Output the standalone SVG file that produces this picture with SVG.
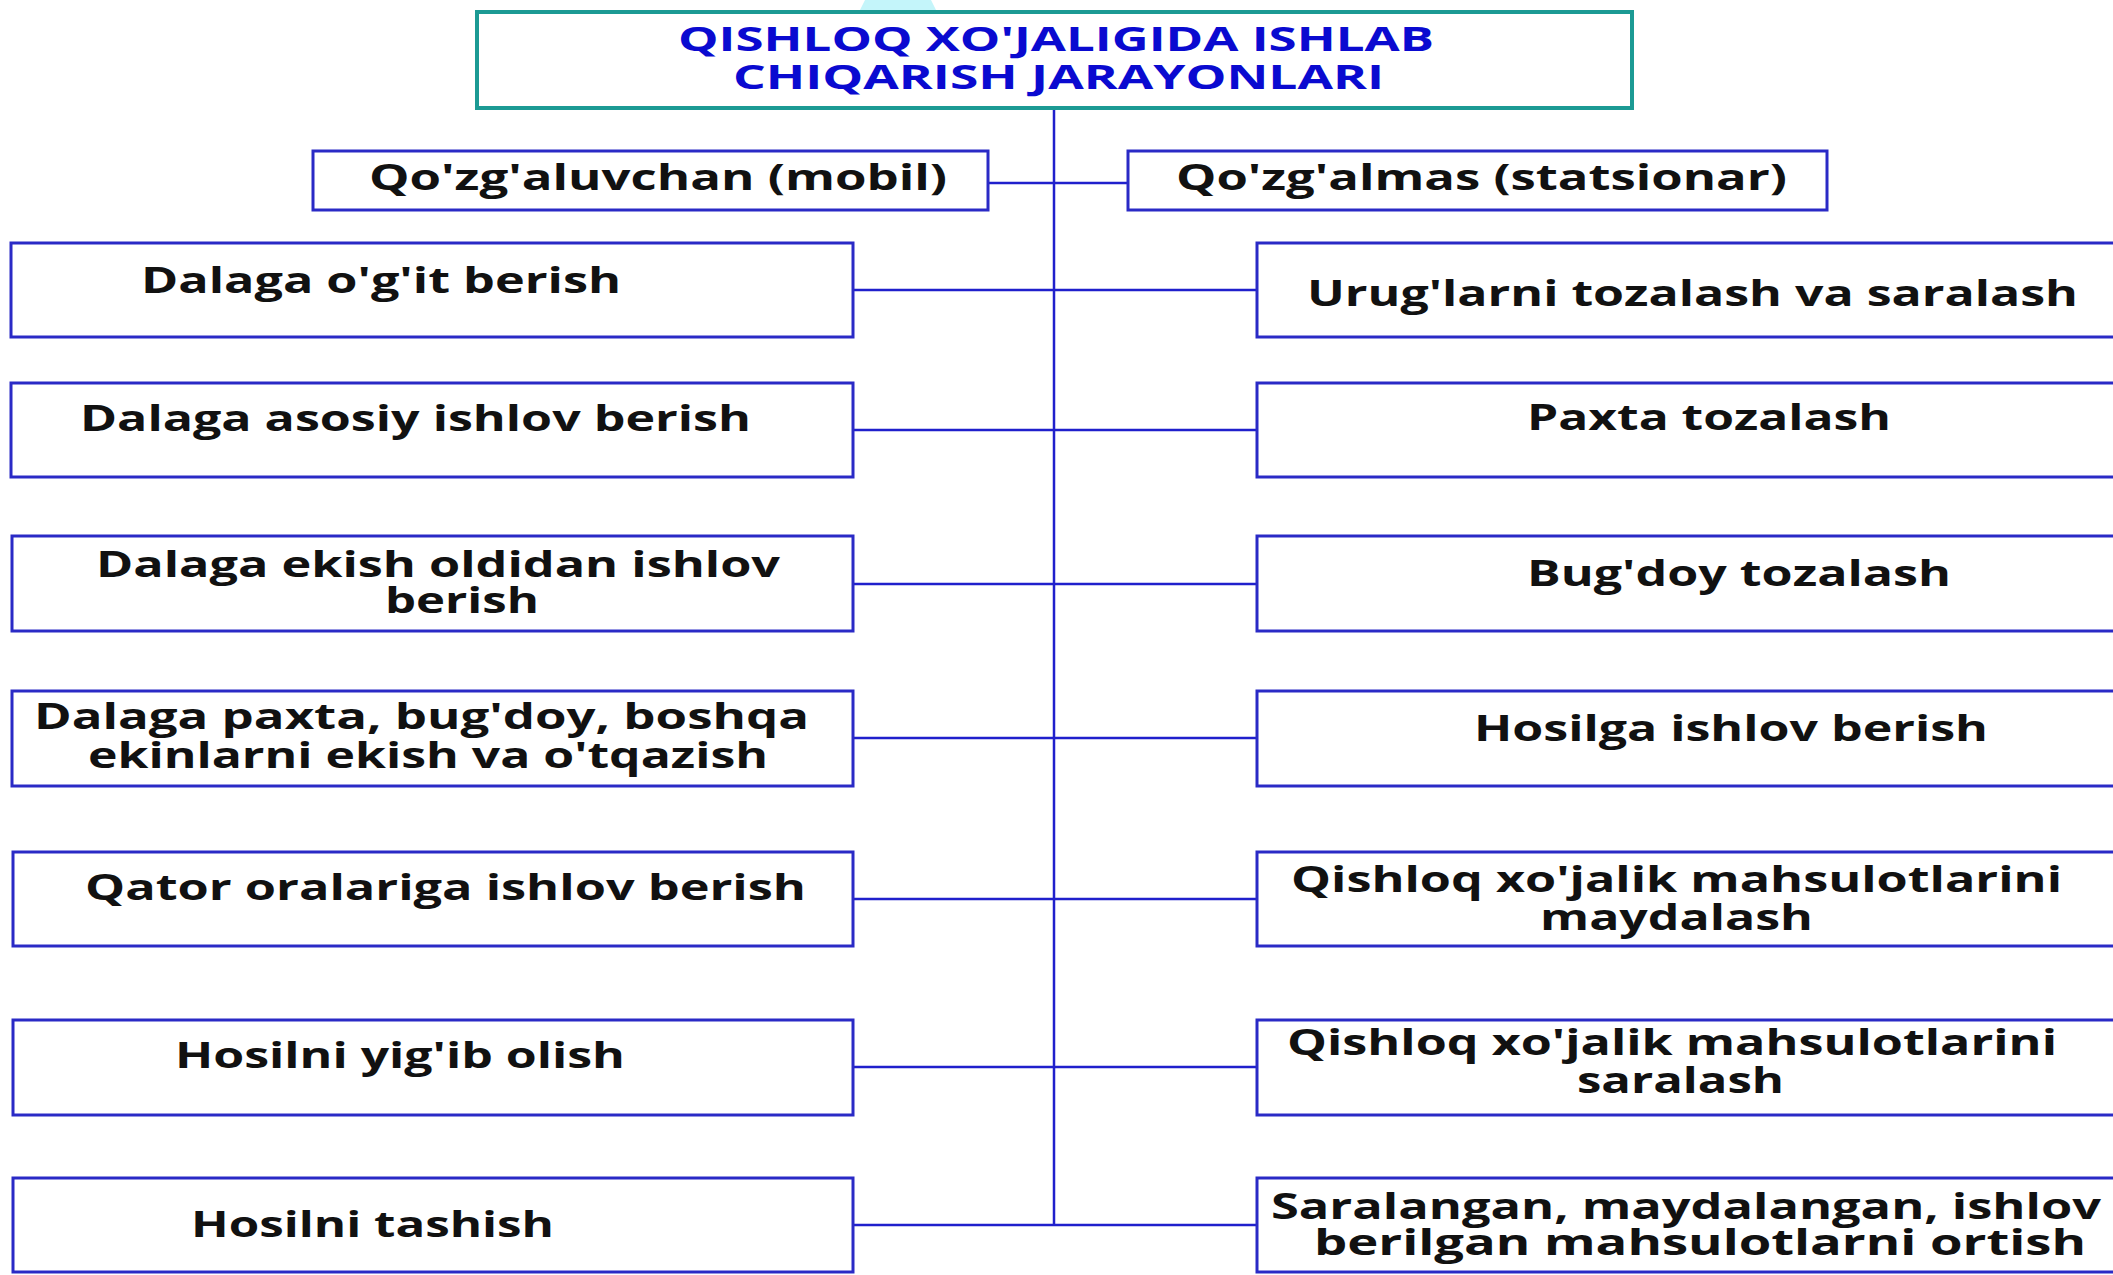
<svg xmlns="http://www.w3.org/2000/svg" width="2113" height="1275" viewBox="0 0 2113 1275">
<style>
.box{fill:#fff;stroke:#2a2ac6;stroke-width:3}
.title{fill:#fff;stroke:#1c9a94;stroke-width:4}
.t{font-family:"Open Sans","Liberation Sans",sans-serif;font-weight:bold;font-size:36px;fill:#111}
.tt{font-family:"Open Sans","Liberation Sans",sans-serif;font-weight:bold;font-size:34px;fill:#0a0ad0}
.c{stroke:#2020cc;stroke-width:2.5;fill:none}
</style>
<rect width="2113" height="1275" fill="#fff"/>
<path d="M858,14 L865,0 L931,0 L938,14 Z" fill="#c4f5fa"/>
<g id="connectors">
<line class="c" x1="1054" y1="108" x2="1054" y2="1225"/>
<line class="c" x1="988" y1="183" x2="1128" y2="183"/>
<line class="c" x1="853" y1="290" x2="1257" y2="290"/>
<line class="c" x1="853" y1="430" x2="1257" y2="430"/>
<line class="c" x1="853" y1="584" x2="1257" y2="584"/>
<line class="c" x1="853" y1="738" x2="1257" y2="738"/>
<line class="c" x1="853" y1="899" x2="1257" y2="899"/>
<line class="c" x1="853" y1="1067" x2="1257" y2="1067"/>
<line class="c" x1="853" y1="1225" x2="1257" y2="1225"/>
</g>
<g id="title">
<rect class="title" x="477" y="12" width="1155" height="96"/>
<text class="tt" x="678" y="51" textLength="756" lengthAdjust="spacingAndGlyphs">QISHLOQ XO'JALIGIDA ISHLAB</text>
<text class="tt" x="733" y="89" textLength="651" lengthAdjust="spacingAndGlyphs">CHIQARISH JARAYONLARI</text>
</g>
<g id="mobil">
<rect class="box" x="313" y="151" width="675" height="59"/>
<text class="t" x="369" y="190" textLength="578" lengthAdjust="spacingAndGlyphs">Qo'zg'aluvchan (mobil)</text>
</g>
<g id="statsionar">
<rect class="box" x="1128" y="151" width="699" height="59"/>
<text class="t" x="1176" y="190" textLength="611" lengthAdjust="spacingAndGlyphs">Qo'zg'almas (statsionar)</text>
</g>
<g id="l1">
<rect class="box" x="11" y="243" width="842" height="94"/>
<text class="t" x="141" y="293" textLength="480" lengthAdjust="spacingAndGlyphs">Dalaga o'g'it berish</text>
</g>
<g id="l2">
<rect class="box" x="11" y="383" width="842" height="94"/>
<text class="t" x="80" y="431" textLength="671" lengthAdjust="spacingAndGlyphs">Dalaga asosiy ishlov berish</text>
</g>
<g id="l3">
<rect class="box" x="12" y="536" width="841" height="95"/>
<text class="t" x="96" y="577" textLength="684" lengthAdjust="spacingAndGlyphs">Dalaga ekish oldidan ishlov</text>
<text class="t" x="385" y="613" textLength="154" lengthAdjust="spacingAndGlyphs">berish</text>
</g>
<g id="l4">
<rect class="box" x="12" y="691" width="841" height="95"/>
<text class="t" x="34" y="729" textLength="775" lengthAdjust="spacingAndGlyphs">Dalaga paxta, bug'doy, boshqa</text>
<text class="t" x="88" y="768" textLength="680" lengthAdjust="spacingAndGlyphs">ekinlarni ekish va o'tqazish</text>
</g>
<g id="l5">
<rect class="box" x="13" y="852" width="840" height="94"/>
<text class="t" x="85" y="900" textLength="721" lengthAdjust="spacingAndGlyphs">Qator oralariga ishlov berish</text>
</g>
<g id="l6">
<rect class="box" x="13" y="1020" width="840" height="95"/>
<text class="t" x="175" y="1068" textLength="450" lengthAdjust="spacingAndGlyphs">Hosilni yig'ib olish</text>
</g>
<g id="l7">
<rect class="box" x="13" y="1178" width="840" height="94"/>
<text class="t" x="191" y="1237" textLength="363" lengthAdjust="spacingAndGlyphs">Hosilni tashish</text>
</g>
<g id="r1">
<rect class="box" x="1257" y="243" width="860" height="94"/>
<text class="t" x="1307" y="306" textLength="771" lengthAdjust="spacingAndGlyphs">Urug'larni tozalash va saralash</text>
</g>
<g id="r2">
<rect class="box" x="1257" y="383" width="860" height="94"/>
<text class="t" x="1527" y="430" textLength="364" lengthAdjust="spacingAndGlyphs">Paxta tozalash</text>
</g>
<g id="r3">
<rect class="box" x="1257" y="536" width="860" height="95"/>
<text class="t" x="1527" y="586" textLength="424" lengthAdjust="spacingAndGlyphs">Bug'doy tozalash</text>
</g>
<g id="r4">
<rect class="box" x="1257" y="691" width="860" height="95"/>
<text class="t" x="1474" y="741" textLength="514" lengthAdjust="spacingAndGlyphs">Hosilga ishlov berish</text>
</g>
<g id="r5">
<rect class="box" x="1257" y="852" width="860" height="94"/>
<text class="t" x="1291" y="892" textLength="771" lengthAdjust="spacingAndGlyphs">Qishloq xo'jalik mahsulotlarini</text>
<text class="t" x="1540" y="930" textLength="273" lengthAdjust="spacingAndGlyphs">maydalash</text>
</g>
<g id="r6">
<rect class="box" x="1257" y="1020" width="860" height="95"/>
<text class="t" x="1287" y="1055" textLength="770" lengthAdjust="spacingAndGlyphs">Qishloq xo'jalik mahsulotlarini</text>
<text class="t" x="1577" y="1093" textLength="207" lengthAdjust="spacingAndGlyphs">saralash</text>
</g>
<g id="r7">
<rect class="box" x="1257" y="1178" width="860" height="94"/>
<text class="t" x="1271" y="1219" textLength="830" lengthAdjust="spacingAndGlyphs">Saralangan, maydalangan, ishlov</text>
<text class="t" x="1314" y="1255" textLength="772" lengthAdjust="spacingAndGlyphs">berilgan mahsulotlarni ortish</text>
</g>
</svg>
